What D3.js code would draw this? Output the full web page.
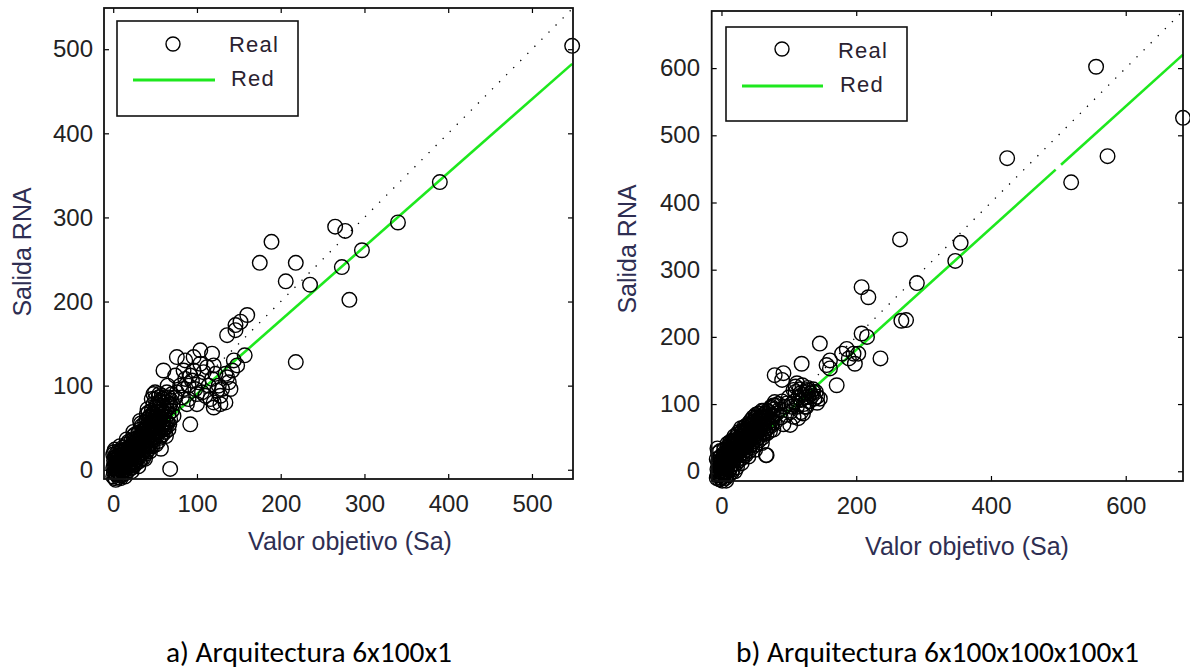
<!DOCTYPE html>
<html><head><meta charset="utf-8">
<script src="https://cdn.jsdelivr.net/npm/d3@7"></script>
<style>body{margin:0;background:#fff} svg{display:block}</style>
</head><body>
<svg id="c" width="1190" height="669"></svg>
<script>
// ---------- DATA ----------
const ticksAx = [0,100,200,300,400,500];
const ticksAy = [0,100,200,300,400,500];
const ticksBx = [0,200,400,600];
const ticksBy = [0,100,200,300,400,500,600];
const limitsA = [-11, 549];
const limitsB = [-14.5, 685];
const fitA = [0.876, 2.5];            // slope, intercept (Red)
const fitRangeA = [[-3, 548]];
const fitB = [0.906, -0.5];
const fitRangeB = [[-7, 496], [504, 685]];
const legendLabels = ["Real", "Red"];
const axisLabelX = "Valor objetivo (Sa)";
const axisLabelY = "Salida RNA";
const captions = ["a) Arquitectura 6x100x1", "b) Arquitectura 6x100x100x100x1"];

// (target, output) pairs - panel a
const realA = [
[0,-8],[1,-3],[0,2],[2,6],[1,11],[3,15],[0,18],[2,-10],[4,-6],[3,0],[5,4],[4,9],[5,13],[1,21],[3,-12],[6,-9],[5,-2],[6,7],[2,24],[4,19],
[7,-4],[8,1],[7,10],[9,15],[8,20],[10,-7],[11,-2],[9,5],[10,12],[11,26],[12,3],[12,18],[8,28],[10,23],[12,-5],[7,16],[9,-10],[11,8],[6,22],[12,13],
[13,0],[14,6],[13,11],[15,17],[14,24],[16,30],[15,-4],[17,3],[16,10],[18,15],[17,21],[19,27],[18,33],[20,5],[19,12],[20,19],[14,-8],[16,36],[20,25],[18,-1],
[21,8],[22,14],[21,22],[23,29],[22,35],[24,40],[23,3],[25,10],[24,17],[26,24],[25,31],[27,37],[26,42],[28,12],[27,19],[28,27],[22,-2],[24,45],[26,6],[28,34],
[29,15],[30,22],[29,30],[31,37],[30,44],[32,48],[31,10],[33,18],[32,26],[34,33],[33,40],[35,46],[34,52],[36,20],[35,28],[36,38],[30,4],[33,55],[36,14],[32,58],
[37,24],[38,31],[37,42],[39,48],[38,56],[40,60],[39,19],[41,27],[40,36],[42,44],[41,52],[43,62],[42,68],[44,30],[43,38],[44,50],[38,13],[41,72],[44,22],[40,66],
[45,35],[46,42],[45,55],[47,63],[46,70],[48,78],[47,28],[49,36],[48,48],[50,57],[49,66],[51,74],[50,84],[52,40],[51,30],[52,62],[46,84],[48,90],[50,92],[52,50],
[53,45],[54,55],[53,68],[55,76],[54,86],[56,38],[57,48],[56,60],[58,70],[57,80],[59,52],[60,63],[59,42],[60,74],[55,90],[58,88],[54,34],[60,56],
[61,50],[62,60],[63,70],[64,80],[62,45],[65,56],[66,66],[67,75],[64,92],[66,48],[68,60],[70,70],[69,82],[63,40],[67,54],[70,90],[65,100],[72,64],[71,78],[74,86],
[1,5],[2,14],[3,8],[4,2],[5,17],[6,1],[7,5],[8,11],[9,22],[10,3],[11,15],[12,8],[13,21],[14,14],[15,4],[16,18],[17,13],[18,24],[19,7],[20,14],
[21,29],[22,20],[23,16],[24,8],[25,25],[26,33],[27,14],[28,22],[29,38],[30,30],[31,25],[32,35],[33,28],[34,42],[35,20],[36,46],[37,35],[38,50],[39,40],[40,28],
[41,45],[42,58],[43,50],[44,64],[45,45],[46,58],[47,50],[48,68],[49,58],[50,44],[51,64],[52,78],[53,58],[54,72],[55,62],[56,82],[57,66],[58,54],[59,84],[61,68],
[62,86],[63,56],[64,72],[66,86],[68,78],[3,-5],[6,-5],[9,0],[12,-2],[15,8],[18,6],[21,2],[24,12],[27,8],[30,16],[33,12],[36,28],[39,30],[42,24],[45,28],
[48,38],[51,46],[54,46],[57,40],[60,48],[63,50],
[76,92],[82,86],[84,96],[90,100],[94,106],[98,96],[102,104],[106,92],[110,88],[114,100],[118,108],[122,114],[96,118],[92,112],[86,108],[80,100],[100,90],[108,116],
[112,122],[116,84],[126,100],[130,96],[134,114],[128,88],[104,126],[96,134],[84,118],[74,112],[90,84],[120,80],[138,104],[142,118],[148,124],[134,80],[140,96],
[68,1],[57,25],[92,54],[60,118],[76,134],[86,130],[104,142],[118,138],[120,124],[136,110],[144,130],[157,136],[136,160],[146,166],[146,172],[152,176],[160,184],
[124,94],[128,78],[120,74],[100,78],[88,78],[175,246],[218,246],[206,224],[235,220],[273,241],[282,202],[218,128],[189,271],[265,289],[277,284],[297,261],
[340,294],[390,342],[548,504]
];

// (target, output) pairs - panel b
const realB = [
[-7,-10],[-5,-4],[-6,3],[-4,10],[-7,18],[-5,27],[-3,-12],[-2,-6],[-1,1],[0,7],[-2,14],[-1,22],[1,-14],[2,-8],[3,0],[2,5],[4,12],[1,18],[3,26],[5,-4],[4,32],[0,-2],[-6,34],[5,8],
[6,-10],[7,-2],[8,4],[6,10],[9,16],[7,22],[8,30],[10,36],[11,-6],[12,2],[10,9],[13,14],[11,20],[12,27],[14,34],[15,40],[14,6],[15,-2],[13,44],[9,41],
[16,10],[17,3],[18,16],[17,24],[19,30],[18,38],[20,45],[21,50],[22,12],[23,6],[21,20],[24,26],[22,34],[23,42],[25,48],[24,55],[20,0],[25,18],[19,52],[16,46],
[26,16],[27,24],[28,30],[27,38],[29,44],[28,52],[30,58],[31,20],[32,28],[33,34],[32,42],[34,48],[33,56],[35,62],[30,12],[35,26],[34,66],[29,64],
[36,24],[37,32],[38,40],[37,48],[39,54],[38,62],[40,68],[41,30],[42,38],[43,46],[42,54],[44,60],[43,66],[45,72],[40,22],[45,40],[44,76],
[46,36],[47,44],[48,52],[47,60],[49,66],[48,74],[50,78],[51,40],[52,48],[53,56],[52,64],[54,70],[55,78],[53,82],[50,32],[55,50],
[56,46],[57,54],[58,62],[57,70],[59,76],[60,82],[61,50],[62,58],[63,66],[62,74],[64,80],[65,86],[60,42],[65,60],[66,24],[63,90],
[67,56],[68,64],[69,72],[70,80],[71,88],[72,60],[74,68],[75,76],[73,94],[76,84],[78,92],[80,98],[77,62],[79,72],[82,86],[84,100],
[-6,-6],[-4,0],[-3,6],[-5,14],[-3,20],[-2,30],[0,-10],[1,4],[2,12],[3,20],[4,-2],[5,16],[6,24],[7,14],[8,-6],[9,8],[10,24],[11,30],[12,40],[13,8],
[14,20],[15,28],[16,34],[17,16],[18,44],[19,22],[20,32],[21,40],[22,46],[23,28],[24,36],[25,58],[26,44],[27,32],[28,40],[29,52],[30,48],[31,60],[32,36],[33,46],
[34,56],[35,40],[36,60],[37,68],[38,52],[39,44],[40,58],[41,72],[42,48],[43,56],[44,68],[45,56],[46,70],[47,80],[48,64],[49,50],[50,68],[51,84],[52,58],[53,72],
[54,62],[55,86],[56,76],[57,62],[58,80],[59,68],[60,90],[61,74],[62,84],[63,56],[64,70],[66,78],[68,90],[70,68],[72,84],[74,96],[76,72],[78,82],[0,14],[2,-4],
[4,24],[6,4],[8,12],[10,18],[12,16],[14,26],[16,22],[18,28],[20,24],[22,24],[24,44],[26,36],[28,46],[30,36],[32,52],[34,38],
[86,92],[90,104],[94,96],[88,80],[92,70],[96,84],[100,110],[104,100],[102,88],[108,104],[110,118],[112,96],[114,110],[116,122],[118,106],[120,114],
[122,100],[124,118],[126,110],[128,124],[130,104],[132,116],[134,112],[136,122],[138,108],[140,118],[142,102],[110,126],[120,128],[130,120],[126,96],[118,88],
[67,24],[7,-14],[79,143],[92,146],[90,136],[112,131],[119,160],[146,190],[156,158],[161,165],[161,153],[171,128],[186,182],[196,175],[198,160],[189,168],
[203,175],[179,175],[208,205],[216,200],[208,274],[218,259],[236,168],[267,224],[274,225],[265,345],[290,280],[347,313],[355,340],[424,466],[519,430],
[556,602],[573,469],[685,526],[121,86],[104,96],[97,101],[124,96],[107,81],[114,79],[102,69],[77,98],[79,103],[127,121],[136,118],[129,111],[117,116],
[142,111],[146,108],[107,121]
];

// ---------- DRAW ----------
const svg = d3.select("#c");
const GREEN = "#1ee81e";
const TICKFONT = "'Liberation Sans', Arial, sans-serif";

function panel(o) {
  const x = d3.scaleLinear().domain(o.lim).range([o.x0, o.x1]);
  const y = d3.scaleLinear().domain(o.lim).range([o.y1, o.y0]);
  const g = svg.append("g");

  // fit line (drawn first, under the circles)
  o.fitRange.forEach(r => {
    g.append("line")
      .attr("x1", x(r[0])).attr("y1", y(o.fit[0]*r[0]+o.fit[1]))
      .attr("x2", x(r[1])).attr("y2", y(o.fit[0]*r[1]+o.fit[1]))
      .attr("stroke", GREEN).attr("stroke-width", 2.6);
  });
  // identity dotted line
  g.append("line")
    .attr("x1", x(o.lim[0])).attr("y1", y(o.lim[0]))
    .attr("x2", x(o.lim[1])).attr("y2", y(o.lim[1]))
    .attr("stroke", "#000").attr("stroke-width", 1.3)
    .attr("stroke-dasharray", "1.3,8.7");

  // data circles
  g.append("g").selectAll("circle").data(o.data).join("circle")
    .attr("cx", d => x(d[0])).attr("cy", d => y(d[1])).attr("r", 7.3)
    .attr("fill", "none").attr("stroke", "#000").attr("stroke-width", 1.4);

  // axes
  const fmt = d3.format("d");
  const ax = (gen, tx, ty, labels, pad) => {
    const a = g.append("g").attr("transform", `translate(${tx},${ty})`)
      .call(gen.tickSizeInner(-5).tickSizeOuter(0).tickPadding(pad)
            .tickFormat(labels ? fmt : () => ""));
    a.select(".domain").remove();
    a.selectAll("line").attr("stroke", "#000").attr("stroke-width", 1.2);
    a.selectAll("text").attr("font-family", TICKFONT).attr("font-size", 24).attr("fill", "#222");
    return a;
  };
  ax(d3.axisBottom(x).tickValues(o.tx), 0, o.y1, true, o.xpad);
  ax(d3.axisTop(x).tickValues(o.tx), 0, o.y0, false, 0);
  ax(d3.axisLeft(y).tickValues(o.ty), o.x0, 0, true, o.ypad);
  ax(d3.axisRight(y).tickValues(o.ty), o.x1, 0, false, 0);

  g.append("rect").attr("x", o.x0).attr("y", o.y0)
    .attr("width", o.x1 - o.x0).attr("height", o.y1 - o.y0)
    .attr("fill", "none").attr("stroke", "#111").attr("stroke-width", 1.8);

  // axis labels
  g.append("text").attr("x", o.xl[0]).attr("y", o.xl[1])
    .attr("text-anchor", "middle").attr("font-family", TICKFONT)
    .attr("font-size", 25).attr("fill", "#2e2e52").text(axisLabelX);
  g.append("text").attr("transform", `translate(${o.yl[0]},${o.yl[1]}) rotate(-90)`)
    .attr("text-anchor", "middle").attr("dominant-baseline", "central")
    .attr("font-family", TICKFONT).attr("font-size", 25).attr("fill", "#2e2e52").text(axisLabelY);

  // legend
  const L = o.leg;
  g.append("rect").attr("x", L.x0).attr("y", L.y0).attr("width", L.x1 - L.x0).attr("height", L.y1 - L.y0)
    .attr("fill", "#fff").attr("stroke", "#111").attr("stroke-width", 1.6);
  g.append("circle").attr("cx", L.cx).attr("cy", L.cy).attr("r", 7)
    .attr("fill", "none").attr("stroke", "#000").attr("stroke-width", 1.4);
  g.append("line").attr("x1", L.lx0).attr("x2", L.lx1).attr("y1", L.ly).attr("y2", L.ly)
    .attr("stroke", GREEN).attr("stroke-width", 3);
  g.selectAll(".lt").data(legendLabels).join("text")
    .attr("x", (d, i) => L.tx[i]).attr("y", (d, i) => L.ty[i])
    .attr("font-family", TICKFONT).attr("font-size", 22).attr("letter-spacing", 1.2)
    .attr("fill", "#2a2230").text(d => d);

  // caption
  svg.append("text").attr("x", o.cap[0]).attr("y", o.cap[1])
    .attr("font-family", "Carlito, Calibri, 'Liberation Sans Narrow', 'Open Sans', sans-serif")
    .attr("font-size", 29).attr("fill", "#000")
    .attr("textLength", o.cap[2]).attr("lengthAdjust", "spacingAndGlyphs")
    .text(o.capText);
}

panel({
  data: realA, lim: limitsA, fit: fitA, fitRange: fitRangeA, tx: ticksAx, ty: ticksAy,
  x0: 104, x1: 573, y0: 8, y1: 479, xpad: 16, ypad: 11,
  xl: [350, 550], yl: [22, 252],
  leg: {x0: 117, x1: 298, y0: 21, y1: 116, cx: 173, cy: 44, lx0: 133, lx1: 215, ly: 80,
        tx: [229, 231], ty: [52, 86]},
  cap: [166, 662, 286], capText: captions[0]
});
panel({
  data: realB, lim: limitsB, fit: fitB, fitRange: fitRangeB, tx: ticksBx, ty: ticksBy,
  x0: 711.7, x1: 1183, y0: 11, y1: 481, xpad: 16, ypad: 11.7,
  xl: [967, 555], yl: [627, 249],
  leg: {x0: 726, x1: 907, y0: 27, y1: 121, cx: 782, cy: 49, lx0: 742, lx1: 823, ly: 86,
        tx: [838, 840], ty: [58, 92]},
  cap: [736, 662, 403], capText: captions[1]
});
</script>
</body></html>
